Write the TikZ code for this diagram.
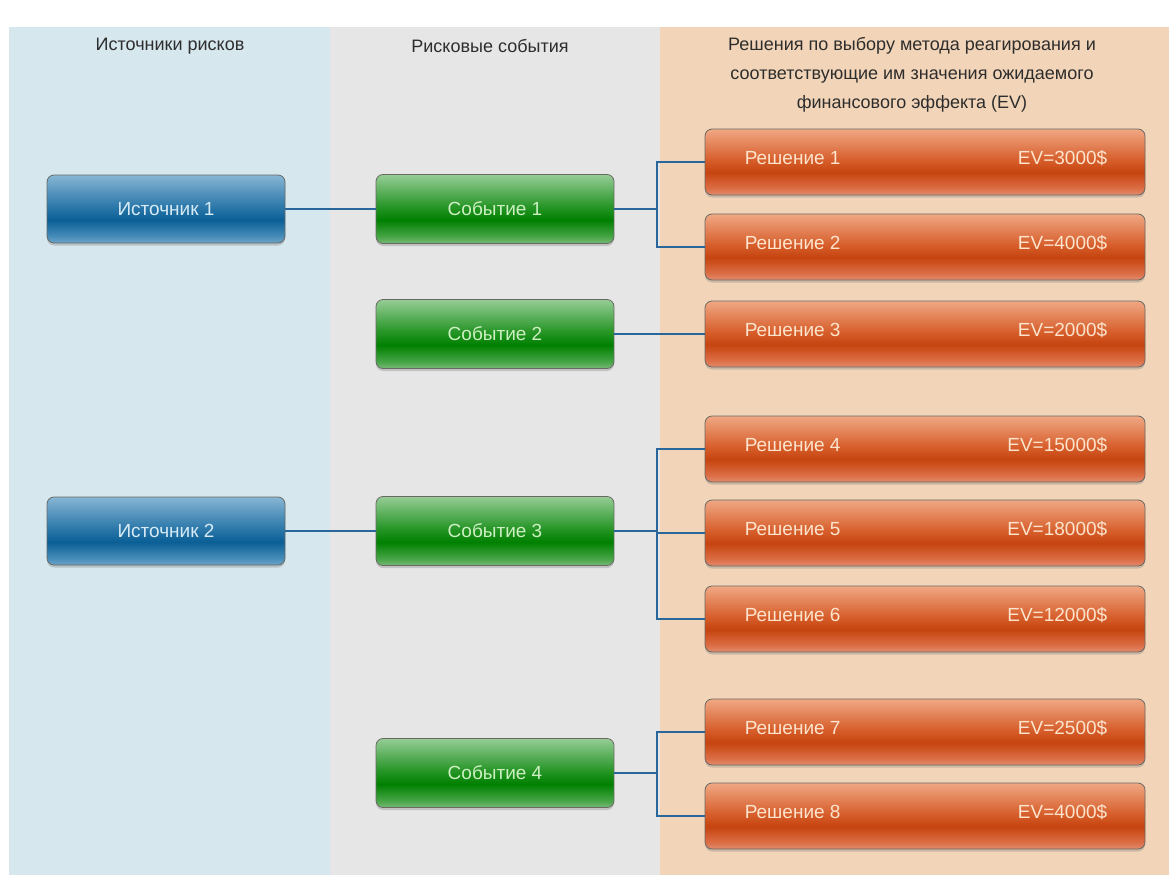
\documentclass[tikz,border=0pt]{standalone}
\usepackage{fontspec}
\setmainfont{Liberation Sans}
\usetikzlibrary{shadows}
\definecolor{bgblue}{RGB}{214,231,237}
\definecolor{bggray}{RGB}{230,230,230}
\definecolor{bgpeach}{RGB}{242,213,184}
\definecolor{hdr}{RGB}{45,45,45}
\definecolor{conn}{RGB}{40,102,155}
\definecolor{edge}{RGB}{105,105,100}
\definecolor{txtblue}{RGB}{215,235,245}
\definecolor{txtgreen}{RGB}{205,240,195}
\definecolor{txtorange}{RGB}{252,228,205}
\pgfdeclareverticalshading{blueglass}{100bp}{
 rgb(0bp)=(.431,.647,.784);
 rgb(25bp)=(.431,.647,.784);
 rgb(30bp)=(.275,.549,.725);
 rgb(42bp)=(.039,.373,.588);
 rgb(52bp)=(.176,.471,.667);
 rgb(75bp)=(.529,.714,.831);
 rgb(100bp)=(.529,.714,.831)}
\pgfdeclareverticalshading{greenglass}{100bp}{
 rgb(0bp)=(.471,.725,.471);
 rgb(25bp)=(.471,.725,.471);
 rgb(30bp)=(.275,.647,.275);
 rgb(42bp)=(0,.502,0);
 rgb(52bp)=(.157,.588,.157);
 rgb(75bp)=(.588,.804,.588);
 rgb(100bp)=(.588,.804,.588)}
\pgfdeclareverticalshading{orangeglass}{100bp}{
 rgb(0bp)=(.882,.549,.431);
 rgb(25bp)=(.882,.549,.431);
 rgb(30bp)=(.863,.431,.275);
 rgb(42bp)=(.776,.267,.059);
 rgb(52bp)=(.843,.373,.176);
 rgb(75bp)=(.941,.659,.518);
 rgb(100bp)=(.941,.659,.518)}
\tikzset{
 x=1pt, y=-1pt,
 glass/.style={draw=edge, line width=0.8pt, rounded corners=7pt,
   drop shadow={shadow xshift=0pt, shadow yshift=-2.5pt, opacity=0.35},
   font=\fontsize{19}{22}\selectfont},
 srcbox/.style={glass, shading=blueglass, minimum width=238pt, minimum height=68pt, text=txtblue},
 evbox/.style={glass, shading=greenglass, minimum width=238pt, minimum height=69pt, text=txtgreen},
 decbox/.style={glass, shading=orangeglass, minimum width=440pt, minimum height=66pt},
 dectxt/.style={text=txtorange, font=\fontsize{19}{22}\selectfont, inner sep=0pt},
 hdrtxt/.style={text=hdr, font=\fontsize{18}{29}\selectfont, align=center},
 link/.style={draw=conn, line width=2.8pt},
}
\begin{document}
\begin{tikzpicture}
\useasboundingbox (0,0) rectangle (1169,875);
\fill[white] (0,0) rectangle (1169,875);
\fill[bgblue] (9,27) rectangle (330,875);
\fill[bggray] (330,27) rectangle (660,875);
\fill[bgpeach] (660,27) rectangle (1169,875);
% headers
\node[hdrtxt] (h1) at (170,46) {Источники рисков};
\node[hdrtxt] (h2) at (490,46) {Рисковые события};
\node[hdrtxt, anchor=north] (h3) at (912,34) {Решения по выбору метода реагирования и\\соответствующие им значения ожидаемого\\финансового эффекта (EV)};
% sources
\node[srcbox] (s1) at (166,209) {Источник 1};
\node[srcbox] (s2) at (166,531) {Источник 2};
% events
\node[evbox] (e1) at (495,209) {Событие 1};
\node[evbox] (e2) at (495,334) {Событие 2};
\node[evbox] (e3) at (495,531) {Событие 3};
\node[evbox] (e4) at (495,773) {Событие 4};
% decisions
\node[decbox] (d1) at (925,162) {};
\node[decbox] (d2) at (925,247) {};
\node[decbox] (d3) at (925,334) {};
\node[decbox] (d4) at (925,449) {};
\node[decbox] (d5) at (925,533) {};
\node[decbox] (d6) at (925,619) {};
\node[decbox] (d7) at (925,732) {};
\node[decbox] (d8) at (925,816) {};
\foreach \i/\v in {1/3000,2/4000,3/2000,4/15000,5/18000,6/12000,7/2500,8/4000}{
  \node[dectxt, anchor=west] (d\i n) at ([xshift=40pt,yshift=4pt]d\i.west) {Решение \i};
  \node[dectxt, anchor=east] (d\i v) at ([xshift=-38pt,yshift=4pt]d\i.east) {EV=\v\$};
}
% connectors
\coordinate (f1) at (657,209);
\coordinate (f3) at (657,531);
\coordinate (f4) at (657,773);
\draw[link] (s1) -- (e1);
\draw[link] (s2) -- (e3);
\draw[link] (e1.east) -- (f1);
\draw[link] (d1.west) -| (f1) |- (d2.west);
\draw[link] (e2) -- (d3);
\draw[link] (e3.east) -- (f3);
\draw[link] (d4.west) -| (f3) |- (d6.west);
\draw[link] (f3 |- d5.west) -- (d5.west);
\draw[link] (e4.east) -- (f4);
\draw[link] (d7.west) -| (f4) |- (d8.west);
\end{tikzpicture}
\end{document}
